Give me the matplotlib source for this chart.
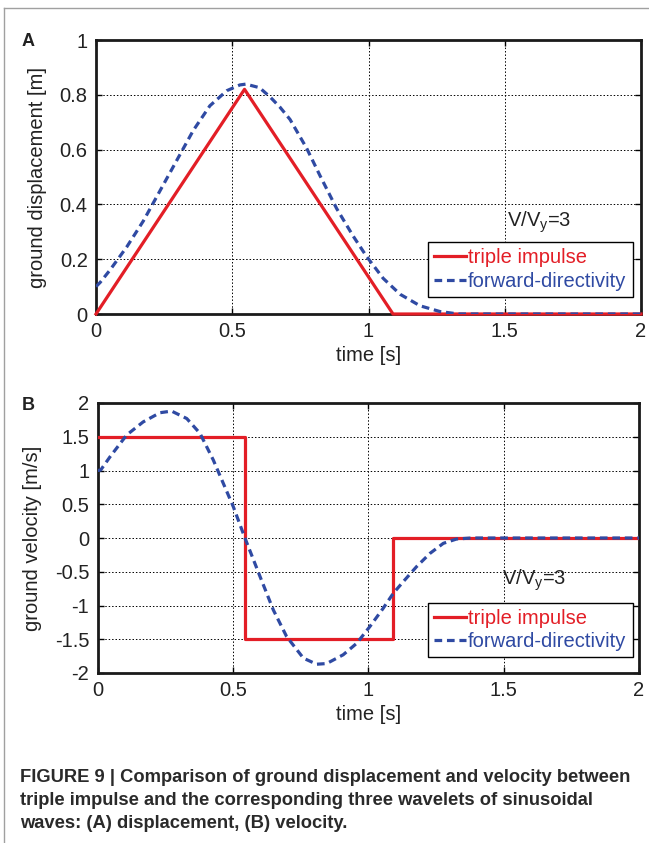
import matplotlib
matplotlib.use("Agg")
import matplotlib.pyplot as plt
from matplotlib.lines import Line2D

plt.rcParams['font.family'] = ['Liberation Sans', 'DejaVu Sans']
plt.rcParams['mathtext.fontset'] = 'custom'
plt.rcParams['mathtext.rm'] = 'Liberation Sans'
plt.rcParams['mathtext.it'] = 'Liberation Sans'

# ---- data ----
# Panel A: ground displacement [m]
disp_imp_t = [0.0, 0.545, 1.09, 2.0]
disp_imp_v = [0.0, 0.82, 0.0, 0.0]
disp_fd_t = [0.0, 0.015, 0.051, 0.113, 0.174, 0.235, 0.296, 0.357, 0.418, 0.48, 0.528,
             0.55, 0.60, 0.639, 0.675, 0.712, 0.773, 0.822, 0.883, 0.944, 0.993, 1.054,
             1.116, 1.189, 1.262, 1.33, 2.0]
disp_fd_v = [0.10, 0.115, 0.16, 0.245, 0.34, 0.45, 0.56, 0.67, 0.76, 0.815, 0.836,
             0.839, 0.826, 0.792, 0.755, 0.71, 0.605, 0.505, 0.385, 0.284, 0.21, 0.13,
             0.072, 0.03, 0.009, 0.0, 0.0]

# Panel B: ground velocity [m/s]
vel_imp_t = [0.0, 0.545, 0.545, 1.09, 1.09, 2.0]
vel_imp_v = [1.5, 1.5, -1.5, -1.5, 0.0, 0.0]
vel_fd_t = [0.0, 0.011, 0.045, 0.107, 0.168, 0.23, 0.273, 0.329, 0.378, 0.427, 0.464,
            0.501, 0.544, 0.60, 0.649, 0.698, 0.76, 0.809, 0.846, 0.907, 0.957,
            1.006, 1.055, 1.092, 1.129, 1.178, 1.228, 1.277, 1.326, 1.38, 2.0]
vel_fd_v = [1.0, 1.007, 1.20, 1.526, 1.72, 1.856, 1.88, 1.77, 1.55, 1.156, 0.81,
            0.464, 0.0, -0.573, -1.067, -1.46, -1.78, -1.87, -1.86, -1.73, -1.56,
            -1.31, -1.04, -0.82, -0.647, -0.425, -0.227, -0.079, -0.015, 0.0, 0.0]

xticks = [0, 0.5, 1, 1.5, 2]
xtick_labels = ['0', '0.5', '1', '1.5', '2']
a_yticks = [0, 0.2, 0.4, 0.6, 0.8, 1]
a_ytick_labels = ['0', '0.2', '0.4', '0.6', '0.8', '1']
b_yticks = [-2, -1.5, -1, -0.5, 0, 0.5, 1, 1.5, 2]
b_ytick_labels = ['-2', '-1.5', '-1', '-0.5', '0', '0.5', '1', '1.5', '2']
series_names = ['triple impulse', 'forward-directivity']

RED = '#e31e26'
BLUE = '#2f4aa3'
TXT = '#222222'
FS = 14.5

fig = plt.figure(figsize=(6.49, 8.43), dpi=100)

# page frame lines
fig.add_artist(Line2D([3.5 / 649, 1.0], [1 - 8 / 843, 1 - 8 / 843], color='#a0a0a0', lw=1.0))
fig.add_artist(Line2D([3.5 / 649, 3.5 / 649], [0.0, 1 - 8 / 843], color='#a0a0a0', lw=1.0))

axA = fig.add_axes([96 / 649, 1 - 314 / 843, 545 / 649, 274 / 843])
axB = fig.add_axes([97.7 / 649, 1 - 673 / 843, 541.3 / 649, 270 / 843])


def style(ax, yticks, ylabels, ylim, ylabel):
    ax.set_xlim(0, 2)
    ax.set_ylim(*ylim)
    ax.set_xticks(xticks)
    ax.set_xticklabels(xtick_labels)
    ax.set_yticks(yticks)
    ax.set_yticklabels(ylabels)
    ax.tick_params(direction='in', length=4, width=1, top=True, right=True,
                   labelsize=FS, pad=6, colors='black', labelcolor=TXT)
    ax.grid(True, color='black', linestyle=(0, (1.5, 2)), linewidth=0.7)
    for s in ax.spines.values():
        s.set_linewidth(2.0)
        s.set_color('#1a1a1a')
    ax.set_xlabel('time [s]', fontsize=FS, color=TXT, labelpad=3)
    ax.set_ylabel(ylabel, fontsize=FS, color=TXT, labelpad=9)


def add_legend(ax, anchor):
    leg = ax.legend(loc='upper left', bbox_to_anchor=anchor, borderaxespad=0,
                    fontsize=FS, frameon=True, fancybox=False, edgecolor='black',
                    handlelength=1.6, handletextpad=0.1, borderpad=0.3,
                    labelspacing=0.22, framealpha=1)
    leg.get_frame().set_linewidth(1.0)
    for t, c in zip(leg.get_texts(), [RED, BLUE]):
        t.set_color(c)
    return leg


DASH = (0, (2.4, 1.5))

# Panel A
axA.plot(disp_imp_t, disp_imp_v, color=RED, lw=2.3, label=series_names[0], zorder=3,
         clip_on=False)
axA.plot(disp_fd_t, disp_fd_v, color=BLUE, lw=2.3, linestyle=DASH,
         label=series_names[1], zorder=3)
style(axA, a_yticks, a_ytick_labels, (0, 1), 'ground displacement [m]')
axA.text(0.754, 0.318, r'V/V$_{\mathrm{y}}$=3', transform=axA.transAxes, fontsize=FS,
         color=TXT, ha='left', va='baseline')
add_legend(axA, (0.609, 0.262))

# Panel B
axB.plot(vel_imp_t, vel_imp_v, color=RED, lw=2.3, label=series_names[0], zorder=3)
axB.plot(vel_fd_t, vel_fd_v, color=BLUE, lw=2.3, linestyle=DASH,
         label=series_names[1], zorder=3)
style(axB, b_yticks, b_ytick_labels, (-2, 2), 'ground velocity [m/s]')
axB.text(0.746, 0.326, r'V/V$_{\mathrm{y}}$=3', transform=axB.transAxes, fontsize=FS,
         color=TXT, ha='left', va='baseline')
add_legend(axB, (0.610, 0.261))

# Panel letters
fig.text(22 / 649, 1 - 42 / 843, 'A', fontsize=13, fontweight='bold', color=TXT,
         ha='left', va='center')
fig.text(22 / 649, 1 - 405 / 843, 'B', fontsize=13, fontweight='bold', color=TXT,
         ha='left', va='center')

# Caption
caption = ['FIGURE 9 | Comparison of ground displacement and velocity between',
           'triple impulse and the corresponding three wavelets of sinusoidal',
           'waves: (A) displacement, (B) velocity.']
for i, line in enumerate(caption):
    fig.text(20 / 649, 1 - (777 + 23.5 * i) / 843, line, fontsize=13.2, fontweight='bold',
             color='#2a2a2a', ha='left', va='center')

fig.savefig('out.png', dpi=100)
